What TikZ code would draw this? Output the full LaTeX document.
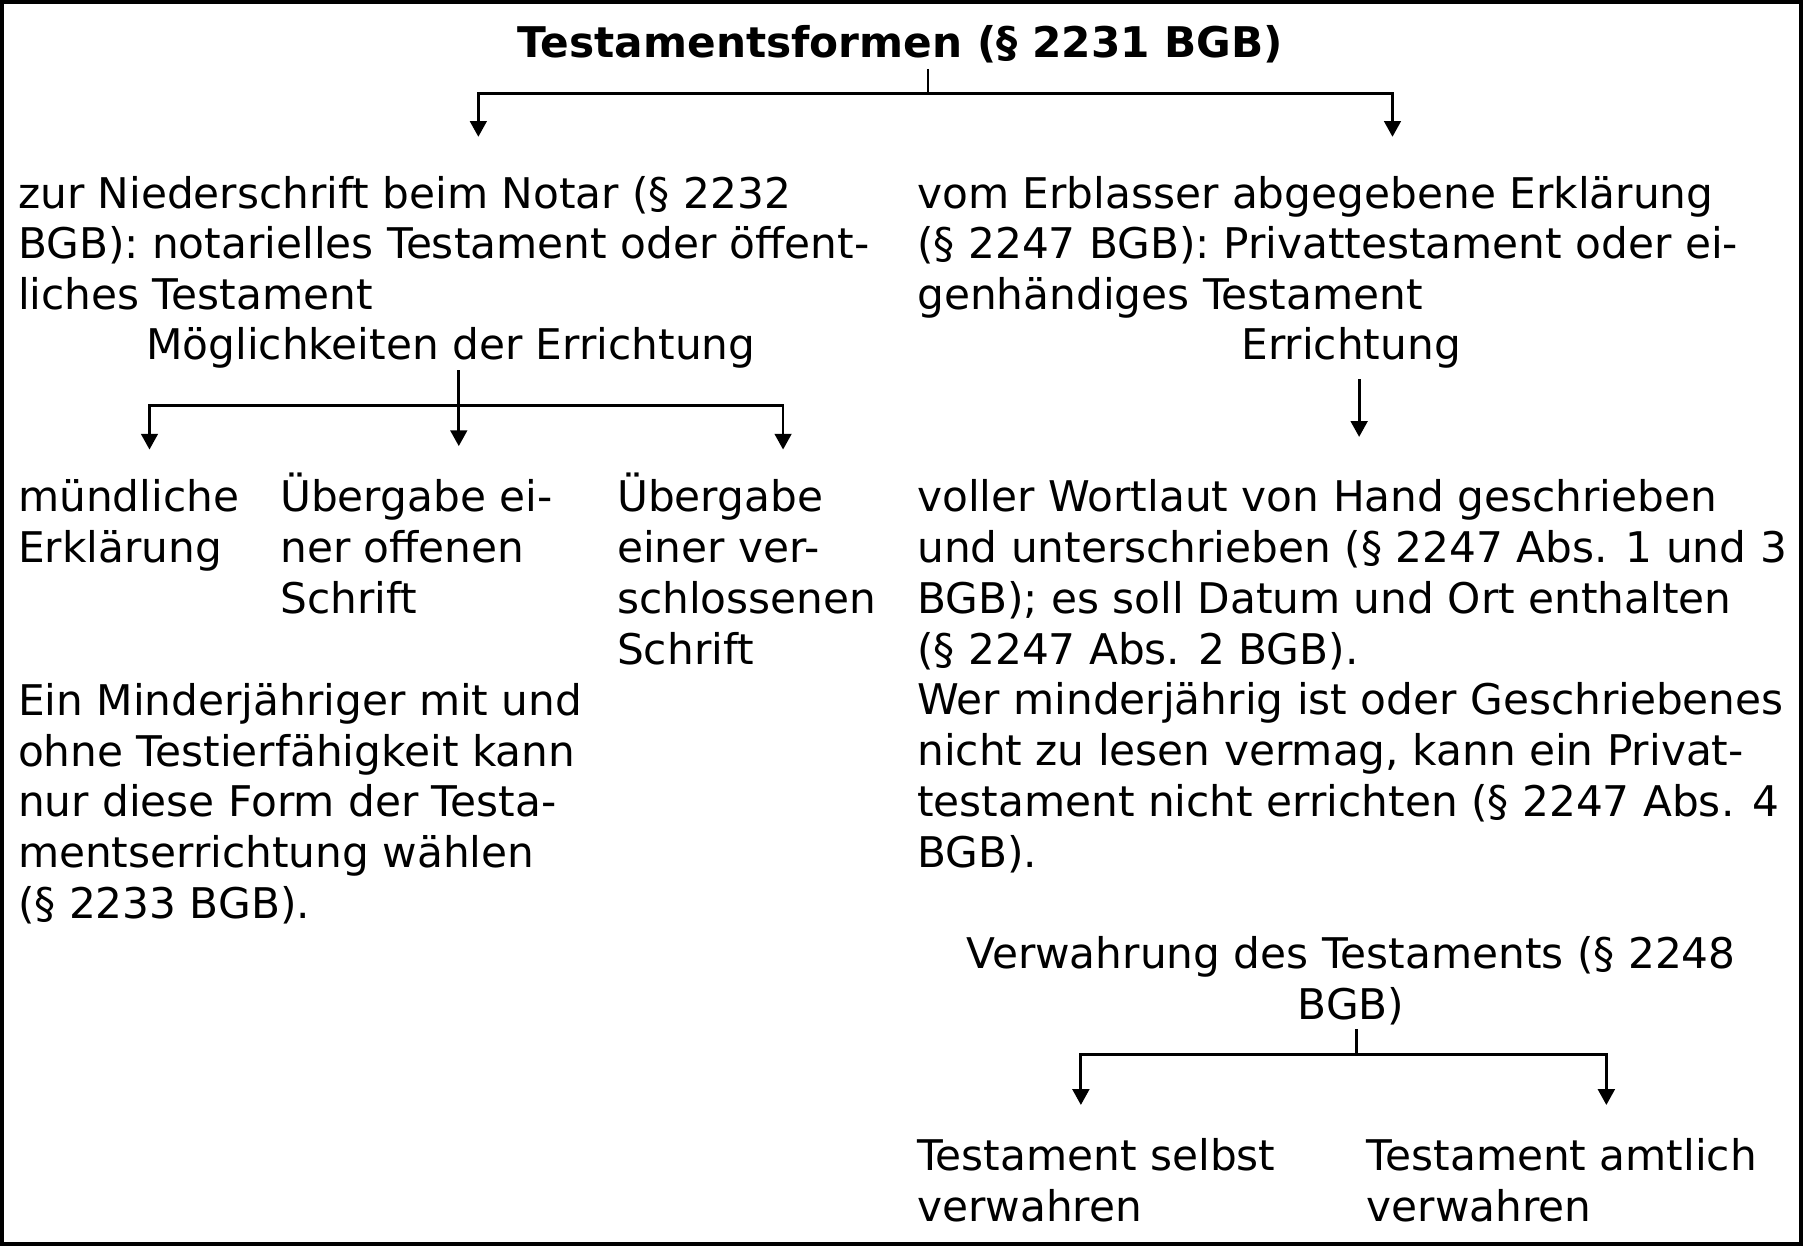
\documentclass[tikz,border=0pt]{standalone}
\usepackage{fontspec}
\setmainfont{DejaVu Sans}
\usetikzlibrary{arrows.meta}

\begin{document}
\begin{tikzpicture}[x=0.01cm,y=-0.01cm]
        \tikzstyle{txt}=[inner sep=0pt, align=left, anchor=base west, font=\fontsize{10.45}{12.57}\selectfont]
        \tikzstyle{ctxt}=[txt, align=center, anchor=base]
        \tikzstyle{head}=[ctxt, font=\fontsize{10.45}{12.57}\selectfont\bfseries]
        \tikzstyle{con}=[line width=0.7pt]
        \tikzstyle{arr}=[con, -{Triangle[length=3.9pt,width=4.1pt]}]
        \useasboundingbox (0,0) rectangle (1568,1083);
        \draw[line width=1pt] (1.5,1.5) rectangle (1566.5,1081.5);
        % top (base anchor = last line)
        \node [head] (forms) at (783,50) {Testamentsformen (§ 2231 BGB)};
        \node [txt] (notar) at (15,269.4) {zur Niederschrift beim Notar (§ 2232\\BGB): notarielles Testament oder öffent-\\liches Testament};
        \node [ctxt] (moegl) at (392,313) {Möglichkeiten der Errichtung};
        \node [txt] (privat) at (797,269.4) {vom Erblasser abgegebene Erklärung\\(§ 2247 BGB): Privattestament oder ei-\\genhändiges Testament};
        \node [ctxt] (erricht) at (1175,313) {Errichtung};
        % left column
        \node [txt] (muendl) at (15,489.2) {mündliche\\Erklärung};
        \node [txt] (offen) at (243,533.4) {Übergabe ei-\\ner offenen\\Schrift};
        \node [txt] (verschl) at (536,577.6) {Übergabe\\einer ver-\\schlossenen\\Schrift};
        \node [txt] (minderj) at (15,798.8) {Ein Minderjähriger mit und\\ohne Testierfähigkeit kann\\nur diese Form der Testa-\\mentserrichtung wählen\\(§ 2233 BGB).};
        % right column
        \node [txt] (hand) at (797,754.4) {voller Wortlaut von Hand geschrieben\\und unterschrieben (§ 2247 Abs. 1 und 3\\BGB); es soll Datum und Ort enthalten\\(§ 2247 Abs. 2 BGB).\\Wer minderjährig ist oder Geschriebenes\\nicht zu lesen vermag, kann ein Privat-\\testament nicht errichten (§ 2247 Abs. 4\\BGB).};
        \node [ctxt] (verwahr) at (1175,886.2) {Verwahrung des Testaments (§ 2248\\BGB)};
        \node [txt] (selbst) at (797,1062.2) {Testament selbst\\verwahren};
        \node [txt] (amtl) at (1188,1062.2) {Testament amtlich\\verwahren};
        % connectors
        \coordinate (f0) at (807,60);
        \coordinate (f1) at (807,81);
        \coordinate (fl) at (416,119);
        \coordinate (fr) at (1211,119);
        \draw [con] (f0) -- (f1);
        \foreach \c in {fl,fr}
          \draw [arr] (f1) -| (\c);
        \coordinate (m0) at (399,322);
        \coordinate (m1) at (399,353);
        \coordinate (mm) at (399,388);
        \coordinate (ml) at (130,391);
        \coordinate (mr) at (681,391);
        \draw [arr] (m0) -- (mm);
        \foreach \c in {ml,mr}
          \draw [arr] (m1) -| (\c);
        \coordinate (e0) at (1182,330);
        \coordinate (e1) at (1182,380);
        \draw [arr] (e0) -- (e1);
        \coordinate (v0) at (1180,895);
        \coordinate (v1) at (1180,917);
        \coordinate (vl) at (940,961);
        \coordinate (vr) at (1397,961);
        \draw [con] (v0) -- (v1);
        \foreach \c in {vl,vr}
          \draw [arr] (v1) -| (\c);
\end{tikzpicture}
\end{document}
